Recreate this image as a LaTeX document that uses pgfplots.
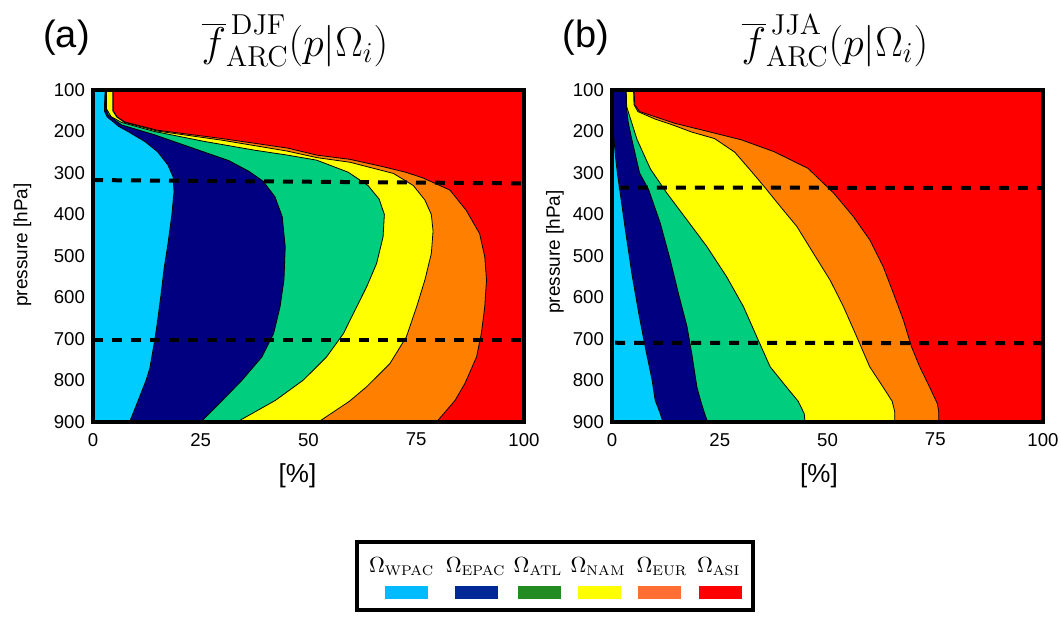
\documentclass[border=0pt]{standalone}
\usepackage[no-math]{fontspec}
\setmainfont{Liberation Sans}
\usepackage{pgfplots}
\pgfplotsset{compat=1.18}
\definecolor{cWPAC}{RGB}{0,204,255}
\definecolor{cEPAC}{RGB}{0,0,128}
\definecolor{cATL}{RGB}{0,205,125}
\definecolor{cNAM}{RGB}{255,255,0}
\definecolor{cEUR}{RGB}{255,128,0}
\definecolor{cASI}{RGB}{255,0,0}
\definecolor{lWPAC}{RGB}{0,187,255}
\definecolor{lEPAC}{RGB}{0,40,150}
\definecolor{lATL}{RGB}{34,139,34}
\definecolor{lNAM}{RGB}{255,255,0}
\definecolor{lEUR}{RGB}{255,110,50}
\definecolor{lASI}{RGB}{255,0,0}
\pgfplotsset{panel/.style={scale only axis, width=215.5pt, height=166pt,
  anchor=south west,
  xmin=0, xmax=100, ymin=100, ymax=900, y dir=reverse,
  xtick={0,25,50,75,100}, ytick={100,200,...,900},
  major tick length=0pt,
  axis line style={line width=1.6pt},
  axis on top,
  tick label style={font=\fontsize{9.3}{10}\selectfont},
  /pgf/number format/assume math mode=true,
  xticklabel style={yshift=-2pt},
  yticklabel style={xshift=-0.5pt}},
  area/.style={draw=black, line width=0.4pt},
  hline/.style={black, line width=2pt, dash pattern=on 5pt off 4.5pt}}
\begin{document}
\begin{tikzpicture}
\useasboundingbox (0,0) rectangle (530.5pt,309pt);
% ---------------- panel (a) DJF ----------------
\begin{axis}[panel, at={(46.5pt,98pt)}]
\addplot[fill=cASI, draw=none] coordinates {(0,100) (100,100) (100,900) (0,900)} -- cycle;
\addplot[fill=cEUR, area] coordinates {(0,100) (4.7,100) (4.7,150) (5.6,165) (7.4,177) (15,197) (30,217) (45.2,240) (52,257) (59.6,267) (67.4,285) (72.5,298) (76.6,312) (82.8,341) (86.6,390) (89.7,446) (90.9,502) (91.3,558) (90.9,622) (90.1,687) (89.0,743) (86.3,807) (84,848) (79.7,900) (0,900)} -- cycle;
\addplot[fill=cNAM, area] coordinates {(0,100) (4.6,100) (4.6,150) (5.5,165) (7.3,178) (15,199) (30,221) (45,247) (52,263) (59.6,274) (69.7,301) (74.3,330) (77.0,365) (78.5,400) (78.9,440) (78.5,494) (77.0,558) (75.1,622) (72.7,695) (68.9,759) (63.5,815) (59.5,850) (52.3,900) (0,900)} -- cycle;
\addplot[fill=cATL, area] coordinates {(0,100) (3.1,100) (3.1,145) (4.2,164) (6.6,178) (14.3,200) (25.9,224) (37.5,245) (45.2,257) (51.9,269) (59.2,298) (63.8,330) (66.4,363) (67.6,400) (67.3,454) (65.8,518) (63.5,574) (61.2,622) (58.1,687) (54.2,743) (48.8,799) (42.3,848) (33.4,900) (0,900)} -- cycle;
\addplot[fill=cEPAC, area] coordinates {(0,100) (2.9,100) (2.9,140) (3.5,160) (6.6,184) (14.3,208) (24,243) (31.5,270) (36.2,296) (39.5,320) (42.2,357) (43.9,405) (44.6,478) (44.3,558) (43.4,622) (41.9,687) (39.2,743) (34.6,799) (30,848) (25,900) (0,900)} -- cycle;
\addplot[fill=cWPAC, area] coordinates {(0,100) (2.8,100) (2.7,130) (2.7,152) (3.3,165) (4.6,176) (6.0,188) (8.1,200) (12,224) (15,249) (17.4,281) (18.6,310) (18.8,345) (18.3,400) (17.4,470) (16.5,530) (15.7,600) (14.8,670) (14.2,710) (13.2,770) (12.3,800) (10.6,845) (8.5,900) (0,900)} -- cycle;
\addplot[hline] coordinates {(0,317) (100,325)};
\addplot[hline] coordinates {(0,702) (100,702)};
\end{axis}
% ---------------- panel (b) JJA ----------------
\begin{axis}[panel, at={(306pt,98pt)}]
\addplot[fill=cASI, draw=none] coordinates {(0,100) (100,100) (100,900) (0,900)} -- cycle;
\addplot[fill=cEUR, area] coordinates {(0,100) (5.1,100) (5.3,136) (6.4,152) (14.5,180) (22.3,200) (30,220) (37.7,249) (45.5,289) (51.4,348) (56.0,405) (59.8,461) (62.9,525) (65.3,590) (67.6,654) (69.5,719) (71.4,767) (73.7,816) (75.5,856) (75.8,875) (75.8,900) (0,900)} -- cycle;
\addplot[fill=cNAM, area] coordinates {(0,100) (5.0,100) (5.1,135) (6.0,152) (10,170) (14.3,185) (18.4,201) (23.8,217) (28.5,250) (32.5,298) (35.5,335) (39.0,380) (42.9,429) (46.7,493) (50.6,558) (53.7,622) (56.8,695) (59.8,767) (62.9,816) (65.0,850) (65.6,875) (65.6,900) (0,900)} -- cycle;
\addplot[fill=cATL, area] coordinates {(0,100) (3.3,100) (3.4,140) (4.0,160) (5.8,219) (8.9,290) (12.7,348) (17.4,413) (22.0,477) (26.6,550) (30.5,622) (33.6,695) (36.7,767) (40.5,816) (43.2,850) (44.6,880) (44.8,900) (0,900)} -- cycle;
\addplot[fill=cEPAC, area] coordinates {(0,100) (3.2,100) (3.3,140) (3.8,180) (4.6,219) (6.4,300) (8.5,340) (11.2,421) (13.5,509) (15.4,590) (17.4,670) (18.5,735) (19.7,816) (20.6,850) (21.5,880) (22.2,900) (0,900)} -- cycle;
\addplot[fill=cWPAC, area] coordinates {(0,170) (0.3,200) (0.8,260) (1.3,305) (1.9,348) (3.1,437) (4.6,542) (6.2,638) (7.7,719) (9.3,799) (10,847) (11.2,880) (11.8,900) (0,900)} -- cycle;
\addplot[hline] coordinates {(1.6,335) (100,336)};
\addplot[hline] coordinates {(0.7,709) (100,710)};
\end{axis}
% ---------------- titles and labels ----------------
\node at (33.25pt,290pt) {\fontsize{19}{22}\selectfont (a)};
\node at (293pt,290pt) {\fontsize{19}{22}\selectfont (b)};
\node at (147.5pt,288.5pt) {\fontsize{20.74}{24}\selectfont $\overline{f}^{\,\mathrm{DJF}}_{\mathrm{ARC}}(p|\Omega_i)$};
\node at (417.5pt,288.5pt) {\fontsize{20.74}{24}\selectfont $\overline{f}^{\,\mathrm{JJA}}_{\mathrm{ARC}}(p|\Omega_i)$};
\node at (148.75pt,71pt) {\fontsize{13}{15}\selectfont [\%]};
\node at (409.5pt,71pt) {\fontsize{13}{15}\selectfont [\%]};
\node[rotate=90] at (11.25pt,186.5pt) {\fontsize{9.5}{11}\selectfont pressure [hPa]};
\node[rotate=90] at (277.5pt,183pt) {\fontsize{9.5}{11}\selectfont pressure [hPa]};
% ---------------- legend ----------------
\draw[line width=2pt] (178.35pt,4pt) rectangle (376.5pt,38.15pt);
\begin{scope}[every node/.style={anchor=base, font=\fontsize{10.5}{12}\selectfont}]
\node at (200.85pt,23pt) {$\Omega_{\mathrm{WPAC}}$};
\node at (237.85pt,23pt) {$\Omega_{\mathrm{EPAC}}$};
\node at (269pt,23pt) {$\Omega_{\mathrm{ATL}}$};
\node at (299pt,23pt) {$\Omega_{\mathrm{NAM}}$};
\node at (331pt,23pt) {$\Omega_{\mathrm{EUR}}$};
\node at (359.35pt,23pt) {$\Omega_{\mathrm{ASI}}$};
\end{scope}
\fill[lWPAC] (192.25pt,9.5pt) rectangle (213.75pt,16.15pt);
\fill[lEPAC] (227.25pt,9.5pt) rectangle (248.75pt,16.15pt);
\fill[lATL] (258.75pt,9.5pt) rectangle (280.25pt,16.15pt);
\fill[lNAM] (288.9pt,9.5pt) rectangle (310.4pt,16.15pt);
\fill[lEUR] (319.1pt,9.5pt) rectangle (340.6pt,16.15pt);
\fill[lASI] (349.25pt,9.5pt) rectangle (370.75pt,16.15pt);
\end{tikzpicture}
\end{document}
